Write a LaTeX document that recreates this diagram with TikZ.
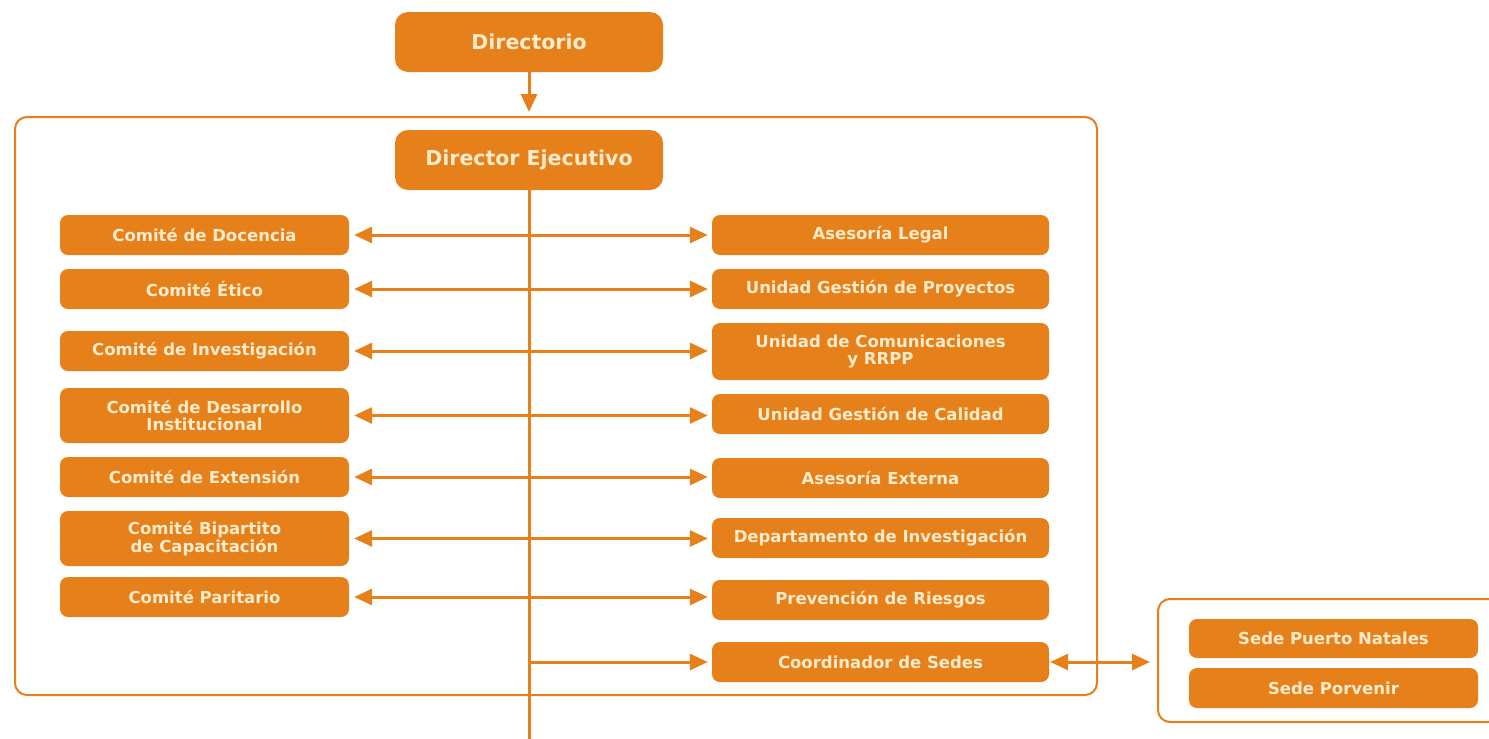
\documentclass[tikz,border=0pt]{standalone}
\usepackage{fontspec}
\setmainfont{DejaVu Sans}
\usetikzlibrary{arrows.meta}
\definecolor{org}{HTML}{E6801A}
\definecolor{txt}{HTML}{FDEBCB}
\begin{document}
\begin{tikzpicture}[x=1pt,y=-1pt,
  box/.style={fill=org, draw=none, text=txt, rounded corners=8pt, inner sep=0pt, align=center,
    font=\bfseries\fontsize{16.5}{17.5}\selectfont},
  lbox/.style={box, minimum width=289pt, minimum height=40pt},
  rbox/.style={box, minimum width=337pt, minimum height=40pt},
  sbox/.style={box, minimum width=289pt, minimum height=40pt},
  bigbox/.style={box, rounded corners=13pt, minimum width=268pt, minimum height=60pt,
    font=\bfseries\fontsize{20.5}{22}\selectfont},
  frame/.style={draw=org, line width=2pt, rounded corners=12pt, inner sep=0pt},
  conn/.style={draw=org, line width=3pt},
  tipA/.style={-{Triangle[length=18pt,width=16pt]}},
  tipB/.style={{Triangle[length=18pt,width=16pt]}-{Triangle[length=18pt,width=16pt]}}
]
\clip (0,0) rectangle (1489,739);
\fill[white] (0,0) rectangle (1489,739);

\node[bigbox] (dir) at (529,42) {Directorio};
\node[frame, minimum width=1082pt, minimum height=578pt] (main) at (556,406) {};
\node[bigbox] (de) at (529,160) {Director Ejecutivo};

\node[lbox] (l1) at (204.5,235) {Comité de Docencia};
\node[lbox] (l2) at (204.5,289) {Comité Ético};
\node[lbox] (l3) at (204.5,351) {Comité de Investigación};
\node[lbox, minimum height=55pt] (l4) at (204.5,415.5) {Comité de Desarrollo\\Institucional};
\node[lbox] (l5) at (204.5,477) {Comité de Extensión};
\node[lbox, minimum height=55pt] (l6) at (204.5,538.5) {Comité Bipartito\\de Capacitación};
\node[lbox] (l7) at (204.5,597) {Comité Paritario};

\node[rbox] (r1) at (880.5,235) {Asesoría Legal};
\node[rbox] (r2) at (880.5,289) {Unidad Gestión de Proyectos};
\node[rbox, minimum height=57pt] (r3) at (880.5,351.5) {Unidad de Comunicaciones\\y RRPP};
\node[rbox] (r4) at (880.5,414) {Unidad Gestión de Calidad};
\node[rbox] (r5) at (880.5,478) {Asesoría Externa};
\node[rbox] (r6) at (880.5,538) {Departamento de Investigación};
\node[rbox] (r7) at (880.5,600) {Prevención de Riesgos};
\node[rbox] (r8) at (880.5,662) {Coordinador de Sedes};

\node[frame, minimum width=342pt, minimum height=123pt] (sedes) at (1329,660.5) {};
\node[sbox, minimum height=39pt] (s1) at (1333.5,638.5) {Sede Puerto Natales};
\node[sbox] (s2) at (1333.5,688) {Sede Porvenir};

\coordinate (bot) at (529,745);
\draw[conn, tipA, shorten >=4pt] (dir.south) -- (dir.south |- main.north);
\draw[conn] (de.south) -- (bot);
\foreach \i in {1,...,7}{
  \draw[conn, tipB, shorten <=5pt, shorten >=4pt] (l\i.east) -- (l\i.east -| r\i.west);
}
\draw[conn, tipA, shorten >=4pt] (de.south |- r8.west) -- (r8.west);
\draw[conn, tipB, shorten <=1pt, shorten >=7pt] (r8.east) -- (r8.east -| sedes.west);
\end{tikzpicture}
\end{document}
